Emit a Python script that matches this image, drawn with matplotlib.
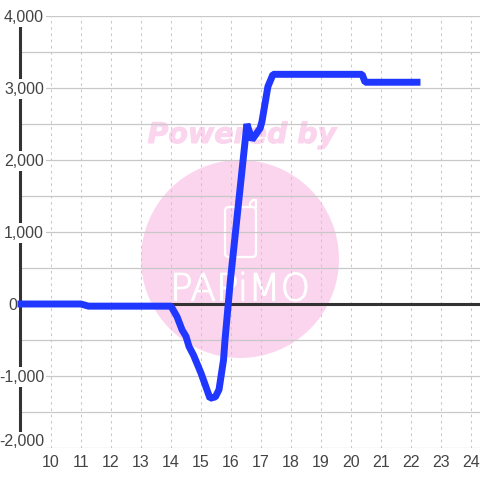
import matplotlib
matplotlib.use("Agg")
import matplotlib.pyplot as plt
import matplotlib.patheffects as pe
from matplotlib.patches import Circle, FancyBboxPatch
from matplotlib.transforms import IdentityTransform

hours = [9, 11, 11.25, 14, 14.2, 14.37, 14.5, 14.6, 14.75, 15.0, 15.3, 15.48, 15.6,
         15.75, 15.8, 15.98, 16.53, 16.7, 16.97, 17.03, 17.23, 17.4, 20.37, 20.47, 22.2]
profit = [0, 0, -30, -30, -176, -360, -450, -590, -710, -960, -1310, -1290, -1190,
          -780, -500, 330, 2500, 2280, 2440, 2530, 3020, 3190, 3190, 3080, 3080]
x_ticks = list(range(10, 25))
y_major = [-2000, -1000, 0, 1000, 2000, 3000, 4000]
y_minor = [-1500, -500, 500, 1500, 2500, 3500]

GRID = "#c8c8c8"
PINK = "#fbd5ee"
TEXT = "#444444"
DARK = "#333333"

plt.rcParams["font.family"] = ["Liberation Sans", "DejaVu Sans"]

fig = plt.figure(figsize=(4.8, 4.8), dpi=100)
ax = fig.add_axes([20 / 480, 1 - 448 / 480, 460 / 480, 432 / 480])
ax.set_xlim(10 + (20 - 51) / 30, 10 + (480 - 51) / 30)
ax.set_ylim(-2000, 4000)

# watermark, pixel coords measured from bottom left
px = IdentityTransform()
ax.add_patch(Circle((240, 480 - 259), 99, transform=px, color=PINK, lw=0, zorder=0, clip_on=False))
ax.text(242, 480 - 135, "Powered by", transform=px, family="DejaVu Sans", weight="bold", style="italic",
        fontsize=20.5, color=PINK, ha="center", va="center", zorder=0,
        path_effects=[pe.withStroke(linewidth=0.7, foreground=PINK)])
ax.add_patch(FancyBboxPatch((225, 480 - 257), 31, 50, boxstyle="round,pad=0,rounding_size=4", transform=px,
                            fc="none", ec="white", lw=1.6, zorder=0.5))
ax.plot([250, 250, 253, 256, 256], [480 - 207, 480 - 203, 480 - 200, 480 - 200, 480 - 207], transform=px,
        color="white", lw=1.6, zorder=0.5)
ax.text(240, 480 - 290, "PAPiMO", transform=px, family="DejaVu Sans", weight="ultralight", fontsize=27,
        color="white", ha="center", va="center", zorder=0.5,
        path_effects=[pe.withStroke(linewidth=0.8, foreground="white")])

for x in x_ticks:
    ax.axvline(x, color=GRID, lw=0.75, ls=(0, (2.5, 3.5)), zorder=1)
for y in y_major + y_minor:
    ax.axhline(y, color=GRID, lw=0.9, zorder=1)
ax.axhline(0, color=DARK, lw=2.2, zorder=2)

for s in ["top", "right", "bottom"]:
    ax.spines[s].set_visible(False)
ax.spines["left"].set_color(DARK)
ax.spines["left"].set_linewidth(2.2)
ax.spines["left"].set_zorder(2)

ax.set_xticks(x_ticks)
ax.set_yticks([])
ax.tick_params(length=0, labelsize=11.5, labelcolor=TEXT, pad=5)

# labels carry a white box, it breaks the axis line behind them
for y in y_major:
    py = ax.transData.transform((0, y))[1] - 1
    right = 44
    if y == 0:
        right = 17
    if y == -2000:
        py += 7
    ax.text(right, py, f"{y:,}", transform=px, ha="right", va="center", fontsize=11.5, color=TEXT,
            zorder=3, clip_on=False, bbox=dict(fc="white", ec="none", pad=1.5))

ax.plot(hours, profit, color="#1f37ff", lw=5, solid_capstyle="projecting", solid_joinstyle="bevel",
        zorder=4, clip_on=False)

fig.savefig("out.png", dpi=100)
